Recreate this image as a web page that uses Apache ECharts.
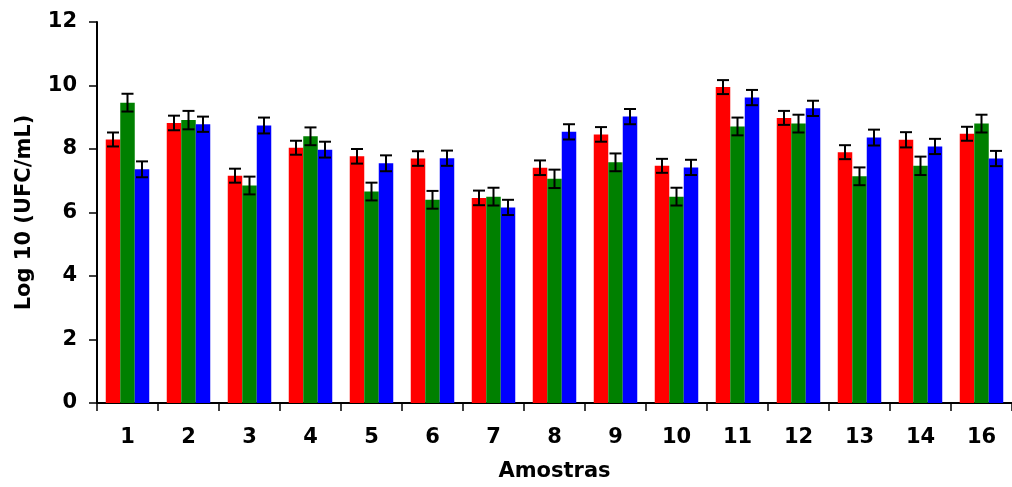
<!DOCTYPE html>
<html>
<head>
<meta charset="utf-8">
<script src="https://cdn.jsdelivr.net/npm/echarts@6/dist/echarts.min.js"></script>
<style>
  html, body { margin: 0; padding: 0; background: #fff; }
  #chart { width: 1012px; height: 487px; }
</style>
</head>
<body>
<div id="chart"></div>
<script>
// Sample labels along the x axis
const categories = ['1', '2', '3', '4', '5', '6', '7', '8', '9', '10', '11', '12', '13', '14', '16'];

// Log10 counts (UFC/mL) for the three series
const redValues   = [8.30, 8.82, 7.16, 8.04, 7.77, 7.70, 6.46, 7.41, 8.46, 7.47, 9.95, 8.98, 7.90, 8.29, 8.48];
const greenValues = [9.46, 8.91, 6.85, 8.40, 6.66, 6.40, 6.50, 7.06, 7.58, 6.50, 8.71, 8.80, 7.14, 7.47, 8.80];
const blueValues  = [7.36, 8.78, 8.74, 7.98, 7.55, 7.71, 6.16, 8.54, 9.02, 7.42, 9.62, 9.28, 8.36, 8.08, 7.70];

// Standard deviations (error bar half-lengths)
const redErrors   = [0.22, 0.23, 0.22, 0.22, 0.23, 0.23, 0.23, 0.23, 0.23, 0.22, 0.22, 0.22, 0.22, 0.24, 0.22];
const greenErrors = [0.28, 0.29, 0.28, 0.28, 0.28, 0.28, 0.28, 0.29, 0.28, 0.28, 0.28, 0.28, 0.28, 0.29, 0.28];
const blueErrors  = [0.25, 0.24, 0.25, 0.25, 0.25, 0.24, 0.24, 0.24, 0.24, 0.24, 0.24, 0.24, 0.25, 0.24, 0.24];

const yTicks = [0, 2, 4, 6, 8, 10, 12];

const FONT = 'DejaVu Sans';
const BAR_W = 14.5;
const CAP_W = 12;

const seriesDefs = [
  { name: 'r', color: '#ff0000', values: redValues,   errors: redErrors,   slot: -1 },
  { name: 'g', color: '#008000', values: greenValues, errors: greenErrors, slot: 0 },
  { name: 'b', color: '#0000ff', values: blueValues,  errors: blueErrors,  slot: 1 }
];

const series = [];
seriesDefs.forEach(def => {
  series.push({
    name: def.name,
    type: 'bar',
    data: def.values,
    barWidth: BAR_W,
    barGap: '0%',
    itemStyle: { color: def.color },
    z: 2
  });
});

// Error bars drawn as custom shapes on top of each bar
seriesDefs.forEach(def => {
  series.push({
    type: 'custom',
    z: 5,
    data: def.values.map((v, i) => [i, v, def.errors[i]]),
    renderItem: function (params, api) {
      const i = api.value(0);
      const v = api.value(1);
      const e = api.value(2);
      const hi = api.coord([i, v + e]);
      const lo = api.coord([i, v - e]);
      const x = hi[0] + def.slot * BAR_W;
      const style = { stroke: '#000', lineWidth: 2 };
      return {
        type: 'group',
        children: [
          { type: 'line', shape: { x1: x, y1: hi[1], x2: x, y2: lo[1] }, style: style },
          { type: 'line', shape: { x1: x - CAP_W / 2, y1: hi[1], x2: x + CAP_W / 2, y2: hi[1] }, style: style },
          { type: 'line', shape: { x1: x - CAP_W / 2, y1: lo[1], x2: x + CAP_W / 2, y2: lo[1] }, style: style }
        ]
      };
    }
  });
});

const chart = echarts.init(document.getElementById('chart'), null, { renderer: 'canvas' });
chart.setOption({
  animation: false,
  backgroundColor: '#ffffff',
  grid: { left: 97, top: 22, width: 915, bottom: 83, containLabel: false },
  xAxis: {
    type: 'category',
    data: categories,
    name: 'Amostras',
    nameLocation: 'middle',
    nameGap: 58,
    nameTextStyle: { fontFamily: FONT, fontWeight: 'bold', fontSize: 21, color: '#000' },
    axisLine: { lineStyle: { color: '#000', width: 2 } },
    axisTick: { show: true, length: 8, lineStyle: { color: '#000', width: 1.5 } },
    axisLabel: { margin: 24, fontFamily: FONT, fontWeight: 'bold', fontSize: 21, color: '#000' }
  },
  yAxis: {
    type: 'value',
    min: yTicks[0],
    max: yTicks[yTicks.length - 1],
    interval: 2,
    name: 'Log 10 (UFC/mL)',
    nameLocation: 'middle',
    nameGap: 62,
    nameTextStyle: { fontFamily: FONT, fontWeight: 'bold', fontSize: 21, color: '#000' },
    axisLine: { show: true, lineStyle: { color: '#000', width: 2 } },
    axisTick: { show: true, length: 8, lineStyle: { color: '#000', width: 1.5 } },
    axisLabel: { margin: 20, fontFamily: FONT, fontWeight: 'bold', fontSize: 21, color: '#000' },
    splitLine: { show: false }
  },
  series: series
});
</script>
</body>
</html>
